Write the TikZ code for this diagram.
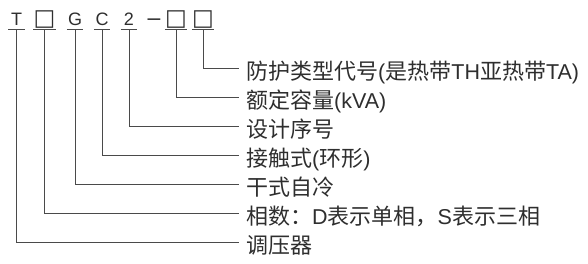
\documentclass[tikz,border=0pt]{standalone}
\usepackage{fontspec}
\setmainfont{Liberation Sans}
\newfontfamily\cjk{Noto Sans CJK SC}
\newfontfamily\symf{DejaVu Sans}
\newfontfamily\latf{Liberation Sans}
\newcommand\la[1]{{\latf\fontsize{21.5}{24}\selectfont #1}}
\definecolor{ink}{HTML}{2E2E2E}
\definecolor{wire}{HTML}{4A4A4A}
\tikzset{
  code/.style={anchor=base, inner sep=0pt, minimum width=16pt, text height=13pt, text depth=4pt, text=ink, font=\fontsize{18}{20}\selectfont},
  uline/.style={draw=wire, line width=0.9pt},
  wirel/.style={draw=wire, line width=0.9pt},
  lbl/.style={anchor=west, inner sep=0pt, text height=22.5pt, text depth=0.5pt, text=ink, font=\cjk\fontsize{22}{24}\selectfont},
}
\begin{document}
\begin{tikzpicture}[x=1pt,y=-1pt]
\useasboundingbox (0,0) rectangle (588,263);
% code letters
\node[code] (c1) at (16.5,25) {T};
\node[code] (c2) at (44.5,25) {\symf\fontsize{23}{24}\selectfont □};
\node[code] (c3) at (75,25) {G};
\node[code] (c4) at (102,25) {C};
\node[code] (c5) at (129,25) {2};
\node[code, minimum width=0pt] (dash) at (154,25) {\fontsize{23}{24}\selectfont –};
\node[code] (c6) at (176,25) {\symf\fontsize{23}{24}\selectfont □};
\node[code] (c7) at (203,25) {\symf\fontsize{23}{24}\selectfont □};
\foreach \n in {c1,c2,c3,c4,c5,c6,c7}{\draw[uline] (\n.south west) -- (\n.south east);}
% labels
\node[lbl] (l1) at (246,68) {防护类型代号\la{(}是热带\la{TH}亚热带\la{TA)}};
\node[lbl] (l2) at (246,97) {额定容量\la{(kVA)}};
\node[lbl] (l3) at (246,126) {设计序号};
\node[lbl] (l4) at (246,155) {接触式\la{(}环形\la{)}};
\node[lbl] (l5) at (246,184) {干式自冷};
\node[lbl] (l6) at (246,213) {相数：\la{D}表示单相，\la{S}表示三相};
\node[lbl] (l7) at (246,242) {调压器};
% connectors
\draw[wirel] (c7.south) |- ([xshift=-7pt]l1.west);
\draw[wirel] (c6.south) |- ([xshift=-7pt]l2.west);
\draw[wirel] (c5.south) |- ([xshift=-7pt]l3.west);
\draw[wirel] (c4.south) |- ([xshift=-7pt]l4.west);
\draw[wirel] (c3.south) |- ([xshift=-7pt]l5.west);
\draw[wirel] (c2.south) |- ([xshift=-7pt]l6.west);
\draw[wirel] (c1.south) |- ([xshift=-7pt]l7.west);
\end{tikzpicture}
\end{document}
